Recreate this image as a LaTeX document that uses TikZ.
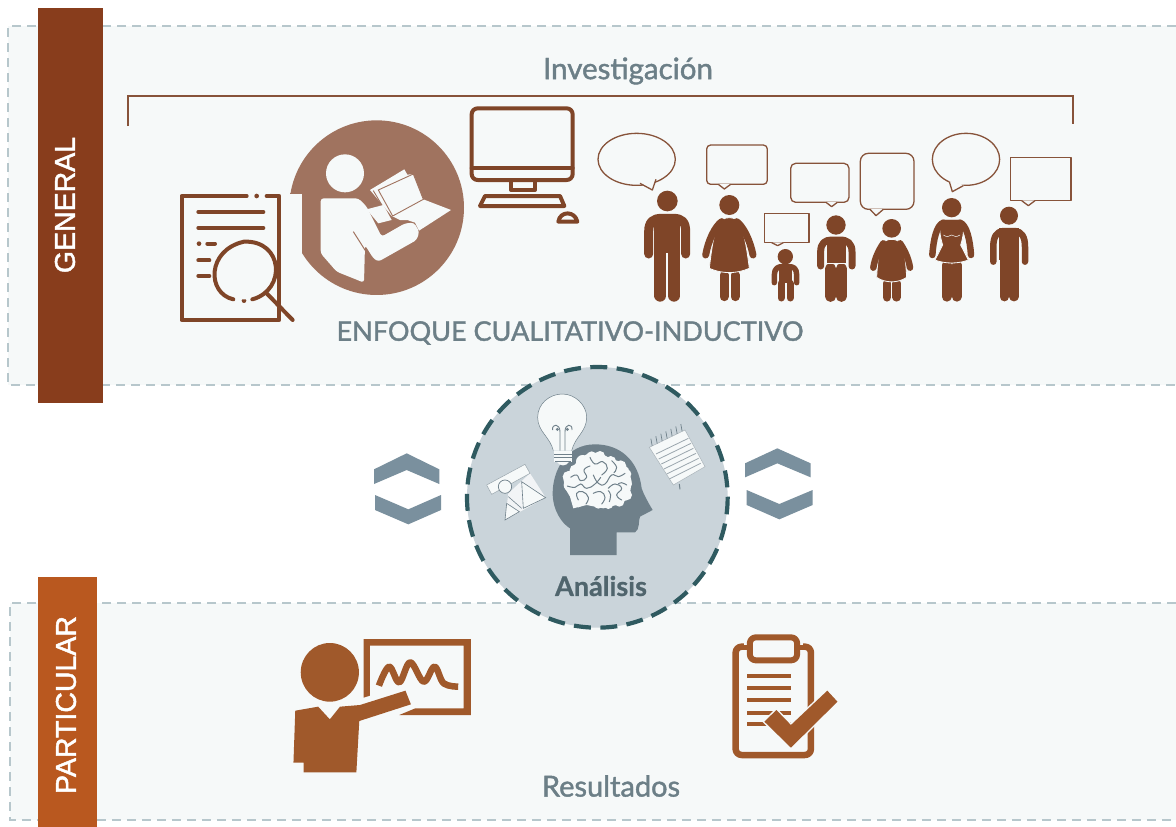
\documentclass[tikz,border=0pt]{standalone}
\usepackage{fontspec}
\usetikzlibrary{calc}
\setmainfont{Liberation Sans}
\newfontfamily\sidef[FakeBold=1.6]{Liberation Sans}
\newfontfamily\lab[FakeBold=1.4]{Lato}
\newfontfamily\labb[FakeBold=0.8]{Lato Bold}
\definecolor{bgp}{HTML}{F6F9F9}
\definecolor{dashc}{HTML}{B7C7CC}
\definecolor{darkbr}{HTML}{883D1C}
\definecolor{orbr}{HTML}{B9581F}
\definecolor{peop}{HTML}{7F4528}
\definecolor{bubc}{HTML}{87533A}
\definecolor{circb}{HTML}{A0735F}
\definecolor{txta}{HTML}{6C7F87}
\definecolor{txtb}{HTML}{50656D}
\definecolor{chev}{HTML}{7A909E}
\definecolor{anfill}{HTML}{CAD4DA}
\definecolor{andash}{HTML}{2F5A60}
\definecolor{headc}{HTML}{6F808A}
\definecolor{pres}{HTML}{A0592B}
\tikzset{
 panelline/.style={draw=dashc,line width=1.3pt,dash pattern=on 9pt off 6pt},
 sidelabel/.style={font=\sidef\fontsize{28.5}{30}\selectfont,text=white,rotate=90,inner sep=0pt},
 lbl/.style={font=\lab\fontsize{#1}{30}\selectfont,inner sep=0pt},
 lblb/.style={font=\labb\fontsize{#1}{30}\selectfont,inner sep=0pt},
 icon/.style={draw=peop,line width=4pt,line cap=round,line join=round},
 limb/.style={draw=peop,line cap=round,line join=round},
 sil/.style={fill=peop,draw=bgp,line width=.8pt},
 bub/.style={draw=bubc,line width=1.3pt,line join=round},
 chevs/.style={fill=chev},
 pr/.style={fill=pres},
 prl/.style={draw=pres,line join=round},
 fold/.style={headc,line width=1pt,line cap=round},
 z3/.style={shift={(#1)},x=0.33333pt,y=-0.33333pt},
 zb/.style={shift={(#1)},x=0.36364pt,y=-0.33333pt}
}
\begin{document}
\begin{tikzpicture}[x=1pt,y=-1pt]
\useasboundingbox (0,0) rectangle (1176,827);
\fill[white] (0,0) rectangle (1176,827);
% panels
\fill[bgp] (8,26) rectangle (1176,385);
\fill[bgp] (10,603) rectangle (1176,820);
\draw[panelline] (1176,26) -- (8,26) -- (8,385) -- (1176,385);
\draw[panelline] (1176,603) -- (10,603) -- (10,820) -- (1176,820);
% side bars
\fill[darkbr] (38,8) rectangle (103,403);
\fill[orbr] (38,577) rectangle (97,827);
\node[sidelabel] (gen) at (65,205) {GENERAL};
\node[sidelabel] (par) at (66,705) {PARTICULAR};
% bracket
\draw[draw=bubc,line width=1.5pt] (128,126) -- (128,96) -- (1073,96) -- (1073,124);
\node[lbl=29.5,text=txta] (inv) at (628,71) {Investigación};
\node[lbl=27,text=txta] (enf) at (570,333) {ENFOQUE CUALITATIVO-INDUCTIVO};
% --- reader + doc + monitor
\begin{scope}[z3={170,90}]
 \fill[circb] (620,353) circle (262);
 \fill[bgp] (340,312) rectangle (396,530);
 \fill[circb] (360,310) rectangle (396,312);
 % reader
 \fill[bgp] (525,250) circle (57);
 \fill[bgp,rounded corners=3pt] (452,490) -- (452,325) -- (565,325) -- (590,350) -- (635,440) -- (705,400) -- (732,398) -- (748,425) -- (740,450) -- (625,515) -- (610,505) -- (585,465) -- (582,578) -- (500,545) -- cycle;
 \draw[circb,line width=1pt] (550,425) -- (590,488);
 \fill[bgp] (600,300) -- (703,238) -- (712,254) -- (730,252) -- (760,328) -- (843,360) -- (747,422) -- (735,398) -- (712,390) -- (690,390) -- (665,378) -- cycle;
 \draw[circb,line width=.9pt] (625,300) -- (730,252) -- (760,328) -- (668,378) -- cycle;
 \draw[circb,line width=.9pt] (610,302) -- (655,378);
 \fill[bgp] (590,358) -- (640,345) -- (665,390) -- (625,400) -- cycle;
 % document
 \draw[icon] (230,318) -- (35,318) -- (35,690) -- (328,690) -- (328,318) -- (290,318);
 \fill[peop] (260,318) circle (7);
 \draw[icon] (85,366) -- (280,366) (85,414) -- (280,414) (112,461) -- (135,461) (85,511) -- (118,511) (85,558) -- (118,558);
 \fill[peop] (87,461) circle (7) (222,632) circle (7);
 \fill[bgp] (222,540) circle (88);
 \draw[icon] (190,628) .. controls (110,610) and (110,480) .. (222,455) .. controls (340,450) and (350,600) .. (247,628);
 \draw[icon] (290,610) -- (368,690);
 % monitor
 \draw[icon,rounded corners=6pt] (905,55) rectangle (1208,270);
 \draw[icon] (905,235) -- (1208,235);
 \draw[icon] (1023,270) -- (1023,300) -- (1095,300) -- (1095,270);
 \draw[icon] (945,318) -- (1170,318) -- (1183,348) -- (930,348) -- cycle;
 \draw[icon] (1165,395) .. controls (1170,362) and (1215,362) .. (1222,395) -- cycle;
\end{scope}
% --- people
\begin{scope}[z3={590,120}]
 % bubbles
 \draw[bub] (140,118) ellipse (116 and 78);
 \fill[bgp] (150,188) -- (187,210) -- (198,176) -- cycle;
 \draw[bub] (150,190) -- (187,210) -- (198,178);
 \draw[bub,rounded corners=4pt] (350,75) rectangle (532,193);
 \fill[bgp] (385,192) -- (403,207) -- (422,192) -- cycle;
 \draw[bub] (385,193) -- (403,207) -- (422,193);
 \draw[bub] (523,281) rectangle (657,368);
 \fill[bgp] (545,367) -- (563,377) -- (580,367) -- cycle;
 \draw[bub] (545,368) -- (563,377) -- (580,368);
 \draw[bub,rounded corners=5pt] (602,130) rectangle (777,247);
 \fill[bgp] (708,246) -- (725,260) -- (742,246) -- cycle;
 \draw[bub] (708,247) -- (725,260) -- (742,247);
 \draw[bub,rounded corners=8pt] (811,100) rectangle (972,268);
 \fill[bgp] (840,267) -- (858,287) -- (880,267) -- cycle;
 \draw[bub] (840,268) -- (858,287) -- (880,268);
 \draw[bub] (1128,118) ellipse (101 and 78);
 \fill[bgp] (1078,183) -- (1087,215) -- (1122,195) -- cycle;
 \draw[bub] (1078,185) -- (1087,215) -- (1120,197);
 \draw[bub] (1261,112) rectangle (1443,242);
 \fill[bgp] (1295,241) -- (1315,257) -- (1335,241) -- cycle;
 \draw[bub] (1295,242) -- (1315,257) -- (1335,242);
 % person 1
 \fill[peop] (232,243) circle (31);
 \draw[limb,line width=12pt] (211,395) -- (211,527) (252,395) -- (252,527);
 \fill[peop] (193,285) rectangle (270,400);
 \draw[limb,line width=9pt] (176,402) -- (176,335) .. controls (176,305) and (190,295) .. (215,295) -- (250,295) .. controls (275,295) and (287,305) .. (287,335) -- (287,402);
 % person 2
 \fill[peop] (418,255) circle (30);
 \draw[limb,line width=9pt] (402,465) -- (402,530) (435,465) -- (435,530);
 \path[sil] (418,293) .. controls (450,293) and (462,320) .. (478,445) .. controls (440,462) and (395,462) .. (358,445) .. controls (372,320) and (385,293) .. (418,293);
 \draw[limb,line width=7pt] (347,405) .. controls (355,360) and (375,320) .. (395,305) (489,405) .. controls (480,360) and (460,320) .. (440,305);
 % person 3
 \fill[peop] (586,410) circle (23);
 \draw[limb,line width=7pt] (573,490) -- (573,534) (600,490) -- (600,534);
 \fill[peop] (567,438) rectangle (606,490);
 \draw[limb,line width=5.5pt] (553,488) -- (553,465) .. controls (553,445) and (565,440) .. (575,440) -- (598,440) .. controls (610,440) and (620,445) .. (620,465) -- (620,488);
 % person 4
 \fill[peop] (738,315) circle (29);
 \draw[limb,line width=10.5pt] (722,445) -- (722,530) (754,445) -- (754,530);
 \path[sil] (708,355) rectangle (770,430);
 \draw[limb,line width=7pt] (692,438) -- (692,395) .. controls (692,370) and (705,360) .. (725,360) -- (750,360) .. controls (772,360) and (786,370) .. (786,395) -- (786,438);
 % person 5
 \fill[peop] (905,325) circle (28);
 \draw[limb,line width=8.5pt] (891,490) -- (891,532) (920,490) -- (920,532);
 \path[sil] (905,358) .. controls (935,358) and (945,380) .. (950,472) .. controls (925,490) and (885,490) .. (860,472) .. controls (865,380) and (875,358) .. (905,358);
 \draw[limb,line width=6.5pt] (850,443) .. controls (855,410) and (870,385) .. (880,370) (960,443) .. controls (955,410) and (940,385) .. (930,370);
 % person 6
 \fill[peop] (1085,263) circle (29);
 \draw[limb,line width=10pt] (1070,435) -- (1070,530) (1100,435) -- (1100,530);
 \path[sil] (1055,298) -- (1115,298) .. controls (1125,320) and (1120,350) .. (1112,375) -- (1135,420) .. controls (1105,432) and (1065,432) .. (1035,420) -- (1058,375) .. controls (1050,350) and (1045,320) .. (1055,298);
 \draw[limb,line width=6.5pt] (1027,405) .. controls (1030,360) and (1040,315) .. (1060,308) (1143,405) .. controls (1140,360) and (1130,315) .. (1110,308);
 \draw[bgp,line width=.5pt] (1060,345) .. controls (1070,352) and (1078,350) .. (1085,345) .. controls (1092,350) and (1100,352) .. (1110,345);
 % person 7
 \fill[peop] (1257,287) circle (27);
 \draw[limb,line width=9.5pt] (1243,415) -- (1243,530) (1272,415) -- (1272,530);
 \fill[peop] (1228,325) rectangle (1286,420);
 \draw[limb,line width=6.5pt] (1210,425) -- (1210,380) .. controls (1210,350) and (1220,335) .. (1240,333) -- (1275,333) .. controls (1295,335) and (1305,350) .. (1305,380) -- (1305,425);
\end{scope}
% --- Analysis
\begin{scope}[z3={360,360}]
 \fill[chevs] (42,328) -- (140,280) -- (238,328) -- (238,372) -- (140,330) -- (42,372) -- cycle;
 \fill[chevs] (45,405) -- (145,448) -- (243,405) -- (243,450) -- (145,493) -- (45,450) -- cycle;
 \fill[chevs] (1155,310) -- (1252,265) -- (1352,310) -- (1352,352) -- (1252,310) -- (1155,352) -- cycle;
 \fill[chevs] (1160,390) -- (1258,432) -- (1358,390) -- (1358,435) -- (1258,478) -- (1160,435) -- cycle;
 \draw[fill=anfill,draw=andash,line width=4.2pt,dash pattern=on 17pt off 9.4pt] (712,412) circle (391);
 % head
 \fill[headc] (630,585) -- (770,585) -- (770,517) -- (825,517) .. controls (840,510) and (835,480) .. (840,470) -- (878,450) .. controls (860,420) and (850,400) .. (845,385) .. controls (835,300) and (780,253) .. (705,253) .. controls (620,253) and (578,330) .. (578,400) .. controls (578,450) and (605,490) .. (630,505) -- cycle;
 % brain: lobes
 \fill[bgp] (610,355) -- (635,325) -- (660,295) -- (685,280) -- (720,278) -- (750,295) -- (780,305) -- (805,325) -- (815,365) -- (810,400) -- (800,420) -- (770,435) -- (730,445) -- (680,435) -- (640,445) -- (630,410) -- (615,385) -- cycle;
 \foreach \bx/\by/\br in {625/350/17,630/375/19,645/330/16,668/305/20,695/290/16,720/288/15,752/305/17,782/318/17,800/342/14,802/372/14,800/405/16,778/425/15,745/432/15,715/432/14,690/420/15,655/425/17,642/400/14}{
  \fill[bgp] (\bx,\by) circle (\br);
 }
 \draw[fold] plot[smooth,tension=.8] coordinates {(632,352)(650,345)(662,362)(680,352)(672,330)(690,318)};
 \draw[fold] plot[smooth,tension=.8] coordinates {(690,292)(705,312)(728,305)(742,325)(725,345)};
 \draw[fold] plot[smooth,tension=.8] coordinates {(622,378)(645,382)(662,372)(680,385)(705,372)(722,352)};
 \draw[fold] plot[smooth,tension=.8] coordinates {(655,420)(650,400)(668,395)(685,412)(678,432)};
 \draw[fold] plot[smooth,tension=.8] coordinates {(700,345)(715,370)(735,372)(755,345)(775,350)(795,340)};
 \draw[fold] plot[smooth,tension=.8] coordinates {(700,400)(722,395)(735,412)(725,432)};
 \draw[fold] plot[smooth,tension=.8] coordinates {(745,385)(765,372)(785,385)(770,405)(785,420)};
 \draw[fold] plot[smooth,tension=.8] coordinates {(755,302)(770,322)(762,338)};
 \draw[fold] plot[smooth,tension=.8] coordinates {(748,425)(752,405)(745,392)};
 \draw[fold] plot[smooth,tension=.8] coordinates {(800,375)(785,368)(775,372)};
 % bulb
 \fill[bgp] (580,272) .. controls (570,230) and (533,215) .. (533,172) .. controls (533,130) and (570,102) .. (607,102) .. controls (645,102) and (680,135) .. (680,172) .. controls (680,215) and (645,230) .. (635,272) -- cycle;
 \draw[headc,line width=.5pt] (580,272) .. controls (570,230) and (533,215) .. (533,172) .. controls (533,130) and (570,102) .. (607,102) .. controls (645,102) and (680,135) .. (680,172) .. controls (680,215) and (645,230) .. (635,272);
 \draw[headc,line width=.9pt] (600,272) -- (600,215) .. controls (600,190) and (575,190) .. (578,210) (615,272) -- (615,215) .. controls (615,190) and (638,190) .. (636,210);
 \fill[headc] (592,208) circle (5) (622,208) circle (5);
 \fill[bgp] (582,272) rectangle (635,305);
 \fill[bgp] (590,305) .. controls (600,320) and (618,320) .. (628,305) -- cycle;
 \draw[headc,line width=.9pt] (582,282) -- (635,282) (582,293) -- (635,293) (585,304) -- (632,304);
 % notepad
 \fill[bgp] (868,262) -- (975,210) -- (1035,320) -- (940,375) -- cycle;
 \draw[headc!60,line width=.5pt] (868,262) -- (975,210) -- (1035,320) -- (940,375) -- cycle;
 \foreach \t in {0.08,0.22,...,0.96}{
   \draw[headc,line width=.7pt] ($(868,262)!\t!(975,210)$) -- ++(-4,-22);
 }
 \draw[headc!70,line width=.8pt] (888,282) -- (985,235) (896,297) -- (993,250) (904,312) -- (1000,265) (912,327) -- (1008,280) (920,342) -- (1016,295) (928,357) -- (1022,310);
 \draw[headc,line width=1pt] (958,372) -- (960,388);
 % triangles sheet
 \fill[anfill!25!white] (445,400) -- (510,340) -- (557,413) -- (435,480) -- cycle;
 \fill[bgp] (380,375) -- (495,313) -- (510,340) -- (395,403) -- cycle;
 \draw[headc!70,line width=.5pt] (380,375) -- (495,313) -- (510,340) -- (395,403) -- cycle;
 \fill[bgp] (485,365) -- (557,413) -- (490,445) -- cycle;
 \draw[headc,line width=.6pt] (485,365) -- (557,413) -- (490,445) -- cycle;
 \fill[bgp] (440,430) -- (478,455) -- (435,480) -- cycle;
 \draw[headc,line width=.6pt] (440,430) -- (478,455) -- (435,480) -- cycle;
 \draw[headc,line width=.6pt] (445,410) -- (485,445);
 \draw[headc,line width=.7pt,fill=bgp] (435,380) circle (20);
\end{scope}
\node[lblb=27,text=txtb] (ana) at (601,586) {Análisis};
% --- bottom icons
\begin{scope}[zb={280,625}]
 \fill[pr] (137,142) ellipse (80 and 88);
 \fill[pr] (42,257) -- (105,245) -- (137,283) -- (165,245) -- (220,240) -- (345,197) -- (360,238) -- (218,288) -- (210,442) -- (65,442) -- (65,413) -- (37,413) -- cycle;
 \fill[pr] (230,218) -- (230,42) -- (525,42) -- (525,270) -- (328,270) -- (372,250) -- (505,250) -- (505,62) -- (247,62) -- (247,212) -- cycle;
 \draw[prl,line width=6.5pt] plot[smooth,tension=.6] coordinates {(272,182)(300,125)(328,172)(358,112)(395,170)(425,125)(450,175)(490,185)};
 % clipboard
 \draw[prl,line width=6.5pt,rounded corners=6pt] (1253,65) rectangle (1460,390);
 \fill[bgp] (1275,25) rectangle (1438,60);
 \draw[prl,line width=6pt,rounded corners=6pt,fill=bgp] (1292,37) rectangle (1422,106);
 \draw[prl,line width=4pt] (1285,153) -- (1405,153) (1285,190) -- (1405,190) (1285,226) -- (1405,226) (1285,263) -- (1405,263) (1285,298) -- (1405,298);
 \path[draw=bgp,line width=3pt,fill=pres,line join=miter] (1332,290) -- (1365,255) -- (1405,300) -- (1505,197) -- (1533,230) -- (1405,368) -- cycle;
 \fill[pres] (1332,290) -- (1365,255) -- (1405,300) -- (1505,197) -- (1533,230) -- (1405,368) -- cycle;
\end{scope}
\node[lbl=29,text=txta] (res) at (611,786) {Resultados};
\end{tikzpicture}
\end{document}
